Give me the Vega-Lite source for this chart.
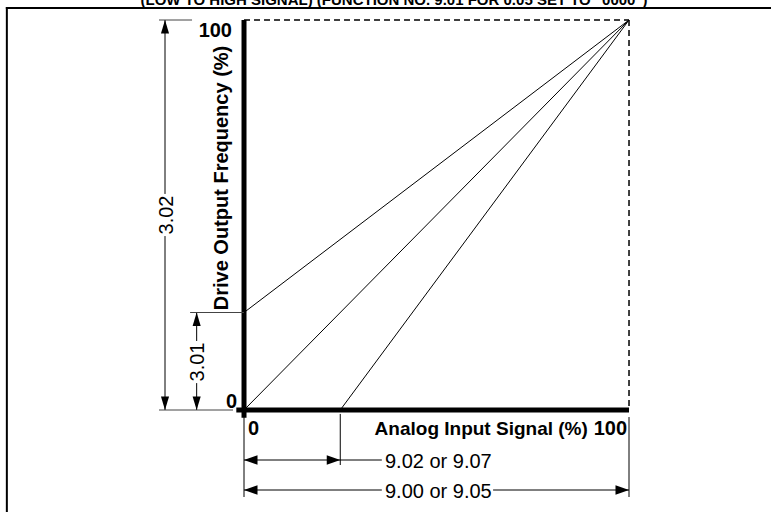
{
  "$schema": "https://vega.github.io/schema/vega-lite/v6.json",
  "width": 771,
  "height": 512,
  "padding": 0,
  "autosize": {"type": "none"},
  "background": "white",
  "config": {"view": {"stroke": null}, "text": {"font": "Liberation Sans"}},
  "datasets": {
    "box": [
      {"x": -61.6, "y": 103.1, "x2": 136.9, "y2": 103.1},
      {"x": -61.6, "y": 103.1, "x2": -61.6, "y2": -26.2}
    ],
    "axes": [
      {"x": 0, "y": 100, "x2": 0, "y2": -2},
      {"x": -2, "y": 0, "x2": 100, "y2": 0}
    ],
    "dashed": [
      {"x": 0, "y": 100, "x2": 100, "y2": 100},
      {"x": 100, "y": 100, "x2": 100, "y2": 0}
    ],
    "curves": [
      {"series": "A", "x": 0, "y": 25},
      {"series": "A", "x": 100, "y": 100},
      {"series": "B", "x": 0, "y": 0},
      {"series": "B", "x": 100, "y": 100},
      {"series": "C", "x": 25, "y": 0},
      {"series": "C", "x": 100, "y": 100}
    ],
    "dims": [
      {"x": 0, "y": -1, "x2": 0, "y2": -22.3},
      {"x": 25, "y": -1, "x2": 25, "y2": -14.1},
      {"x": 100, "y": -1.8, "x2": 100, "y2": -22.3},
      {"x": 0, "y": -12.82, "x2": 35.8, "y2": -12.82},
      {"x": 0, "y": -20.51, "x2": 35.8, "y2": -20.51},
      {"x": 64.7, "y": -20.51, "x2": 100, "y2": -20.51},
      {"x": -20.52, "y": 100, "x2": -20.52, "y2": 55.4},
      {"x": -20.52, "y": 44.6, "x2": -20.52, "y2": 0},
      {"x": -12.3, "y": 25, "x2": -12.3, "y2": 17.7},
      {"x": -12.3, "y": 6.9, "x2": -12.3, "y2": 0}
    ],
    "leads": [
      {"x": -22.08, "y": 100, "x2": -13.5, "y2": 100},
      {"x": -22.08, "y": 0, "x2": -2.86, "y2": 0},
      {"x": -14.0, "y": 25, "x2": 0, "y2": 25}
    ],
    "arrows": [
      {"x": -20.52, "y": 100, "dir": "up"},
      {"x": -20.52, "y": 0, "dir": "down"},
      {"x": -12.3, "y": 25, "dir": "up"},
      {"x": -12.3, "y": 0, "dir": "down"},
      {"x": 0, "y": -12.82, "dir": "left"},
      {"x": 25, "y": -12.82, "dir": "right"},
      {"x": 0, "y": -20.51, "dir": "left"},
      {"x": 100, "y": -20.51, "dir": "right"}
    ],
    "title": [
      {"x": 38.96, "y": 103.85, "text": "(LOW TO HIGH SIGNAL) (FUNCTION NO. 9.01 FOR 0.05 SET TO \"0000\")"}
    ],
    "boldRight": [
      {"x": -3.12, "y": 95.64, "text": "100"},
      {"x": -1.82, "y": 0.51, "text": "0"},
      {"x": 99.48, "y": -6.41, "text": "100"}
    ],
    "boldLabel": [
      {"x": 89.3, "y": -6.41, "text": "Analog Input Signal (%)"}
    ],
    "boldLeft": [
      {"x": 1.04, "y": -6.41, "text": "0"}
    ],
    "boldRot": [
      {"x": -4.16, "y": 59.49, "text": "Drive Output Frequency (%)"}
    ],
    "regRot": [
      {"x": -18.44, "y": 50.0, "text": "3.02"},
      {"x": -10.4, "y": 12.31, "text": "3.01"}
    ],
    "regLeft": [
      {"x": 36.62, "y": -14.87, "text": "9.02 or 9.07"},
      {"x": 36.62, "y": -22.56, "text": "9.00 or 9.05"}
    ]
  },
  "encoding": {
    "x": {"field": "x", "type": "quantitative", "scale": {"domain": [-63.38, 136.88], "nice": false, "zero": false}, "axis": null},
    "y": {"field": "y", "type": "quantitative", "scale": {"domain": [-26.15, 105.13], "nice": false, "zero": false}, "axis": null}
  },
  "layer": [
    {
      "data": {"name": "box"},
      "mark": {"type": "rule", "color": "black", "strokeWidth": 2, "strokeCap": "square", "clip": true},
      "encoding": {"x2": {"field": "x2"}, "y2": {"field": "y2"}}
    },
    {
      "data": {"name": "dashed"},
      "mark": {"type": "rule", "color": "black", "strokeWidth": 1.5, "strokeDash": [6, 4]},
      "encoding": {"x2": {"field": "x2"}, "y2": {"field": "y2"}}
    },
    {
      "data": {"name": "curves"},
      "mark": {"type": "line", "color": "black", "strokeWidth": 1},
      "encoding": {"detail": {"field": "series", "type": "nominal"}}
    },
    {
      "data": {"name": "axes"},
      "mark": {"type": "rule", "color": "black", "strokeWidth": 5},
      "encoding": {"x2": {"field": "x2"}, "y2": {"field": "y2"}}
    },
    {
      "data": {"name": "dims"},
      "mark": {"type": "rule", "color": "black", "strokeWidth": 1},
      "encoding": {"x2": {"field": "x2"}, "y2": {"field": "y2"}}
    },
    {
      "data": {"name": "leads"},
      "mark": {"type": "rule", "color": "#444444", "strokeWidth": 1},
      "encoding": {"x2": {"field": "x2"}, "y2": {"field": "y2"}}
    },
    {
      "data": {"name": "arrows"},
      "mark": {"type": "point", "filled": true, "color": "black", "opacity": 1, "size": 729, "strokeWidth": 0},
      "encoding": {
        "shape": {
          "field": "dir", "type": "nominal", "legend": null,
          "scale": {
            "domain": ["up", "down", "left", "right"],
            "range": ["M0,0L-0.3,1L0.3,1Z", "M0,0L-0.3,-1L0.3,-1Z", "M0,0L1,-0.35L1,0.35Z", "M0,0L-1,-0.35L-1,0.35Z"]
          }
        }
      }
    },
    {
      "data": {"name": "title"},
      "mark": {"type": "text", "font": "Liberation Sans", "fontWeight": "bold", "fontSize": 15, "align": "center", "baseline": "alphabetic", "color": "black"},
      "encoding": {"text": {"field": "text"}}
    },
    {
      "data": {"name": "boldRight"},
      "mark": {"type": "text", "font": "Liberation Sans", "fontWeight": "bold", "fontSize": 20, "align": "right", "baseline": "alphabetic", "color": "black"},
      "encoding": {"text": {"field": "text"}}
    },
    {
      "data": {"name": "boldLabel"},
      "mark": {"type": "text", "font": "Liberation Sans", "fontWeight": "bold", "fontSize": 19, "align": "right", "baseline": "alphabetic", "color": "black"},
      "encoding": {"text": {"field": "text"}}
    },
    {
      "data": {"name": "boldLeft"},
      "mark": {"type": "text", "font": "Liberation Sans", "fontWeight": "bold", "fontSize": 20, "align": "left", "baseline": "alphabetic", "color": "black"},
      "encoding": {"text": {"field": "text"}}
    },
    {
      "data": {"name": "boldRot"},
      "mark": {"type": "text", "font": "Liberation Sans", "fontWeight": "bold", "fontSize": 20, "align": "center", "baseline": "alphabetic", "angle": 270, "color": "black"},
      "encoding": {"text": {"field": "text"}}
    },
    {
      "data": {"name": "regRot"},
      "mark": {"type": "text", "font": "Liberation Sans", "fontSize": 20, "align": "center", "baseline": "alphabetic", "angle": 270, "color": "black"},
      "encoding": {"text": {"field": "text"}}
    },
    {
      "data": {"name": "regLeft"},
      "mark": {"type": "text", "font": "Liberation Sans", "fontSize": 20, "align": "left", "baseline": "alphabetic", "color": "black"},
      "encoding": {"text": {"field": "text"}}
    }
  ]
}
